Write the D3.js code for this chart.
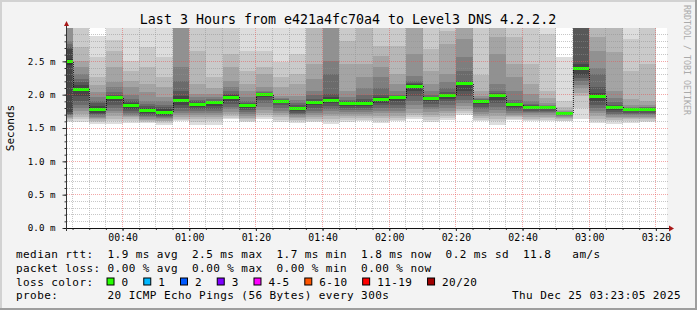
<!DOCTYPE html>
<html>
<head>
<meta charset="utf-8">
<script src="https://cdn.jsdelivr.net/npm/d3@7"></script>
<style>
  html, body { margin: 0; padding: 0; background: #f3f3f3; }
  svg { display: block; }
  text { font-family: "DejaVu Sans Mono", monospace; }
  .pre { white-space: pre; }
</style>
</head>
<body>
<svg id="chart" width="697" height="310"></svg>
<script>
// time window of the graph and the start of the first 5 minute step
const viewStart = "2025-12-25 00:23:20";
const viewEnd = "2025-12-25 03:23:20";
const firstStep = "2025-12-25 00:20:00";
const stepMinutes = 5;

// median rtt per step (ms)
const medians = [2.49, 2.085, 1.775, 1.953, 1.833, 1.758, 1.737, 1.908, 1.855, 1.878,
  1.96, 1.833, 1.998, 1.9, 1.788, 1.88, 1.917, 1.868, 1.868, 1.927,
  1.953, 2.13, 1.937, 1.99, 2.16, 1.9, 1.983, 1.848, 1.81, 1.803,
  1.72, 2.388, 1.973, 1.81, 1.773, 1.78];

// the 20 sorted pings of each step (ms)
const pings = [
  [1.59,1.61,1.63,1.65,1.67,1.69,1.7,1.71,1.74,2.44, 2.53,2.68,2.72,2.76,2.8,3.1,3.2,3.3,3.4,3.5],
  [1.59,1.63,1.67,1.71,1.75,1.8,1.85,1.91,1.98,2.06, 2.1,2.14,2.19,2.235,2.31,2.41,2.51,2.71,3.2,3.5],
  [1.56,1.59,1.61,1.63,1.65,1.67,1.69,1.71,1.73,1.76, 1.79,1.83,1.87,1.91,1.96,2.04,2.14,2.26,2.56,2.885],
  [1.56,1.6,1.64,1.68,1.72,1.76,1.8,1.85,1.9,1.94, 1.965,1.98,2.0,2.035,2.11,2.19,2.41,2.66,2.82,3.4],
  [1.57,1.6,1.63,1.66,1.68,1.7,1.73,1.76,1.79,1.82, 1.845,1.87,1.9,1.94,2.0,2.11,2.21,2.36,2.51,3.3],
  [1.57,1.59,1.6,1.62,1.64,1.66,1.68,1.7,1.72,1.745, 1.77,1.8,1.83,1.86,1.91,2.035,2.16,2.41,2.71,3.2],
  [1.55,1.58,1.6,1.61,1.63,1.645,1.66,1.68,1.7,1.725, 1.75,1.78,1.81,1.85,1.9,1.96,2.11,2.26,2.56,3.3],
  [1.6,1.62,1.64,1.66,1.69,1.72,1.76,1.8,1.85,1.89, 1.93,1.98,2.06,2.2,2.41,3.1,3.2,3.4,3.6,3.8],
  [1.55,1.59,1.63,1.67,1.7,1.73,1.76,1.79,1.82,1.845, 1.865,1.88,1.9,1.92,1.96,2.01,2.16,2.66,3.1,3.3],
  [1.55,1.6,1.63,1.66,1.69,1.72,1.75,1.79,1.83,1.87, 1.885,1.9,1.91,1.93,1.96,2.01,2.1,2.26,3.15,3.4],
  [1.63,1.65,1.68,1.71,1.74,1.78,1.82,1.86,1.9,1.945, 1.975,1.99,2.01,2.05,2.11,2.21,2.41,2.61,3.1,3.4],
  [1.59,1.61,1.63,1.65,1.68,1.71,1.74,1.77,1.8,1.825, 1.84,1.85,1.87,1.9,1.97,2.06,2.16,2.36,2.66,3.3],
  [1.64,1.66,1.69,1.73,1.77,1.82,1.87,1.92,1.96,1.99, 2.005,2.01,2.02,2.04,2.06,2.11,2.31,2.41,2.66,3.3],
  [1.59,1.62,1.66,1.69,1.72,1.76,1.8,1.84,1.87,1.895, 1.905,1.91,1.92,1.93,1.95,1.985,2.11,2.26,2.485,3.2],
  [1.57,1.6,1.62,1.65,1.67,1.69,1.71,1.73,1.75,1.775, 1.8,1.82,1.84,1.88,1.92,1.985,2.16,2.31,2.61,3.3],
  [1.59,1.61,1.63,1.66,1.69,1.72,1.76,1.8,1.84,1.87, 1.89,1.91,1.94,1.99,2.06,2.235,2.46,3.15,3.3,3.6],
  [1.56,1.6,1.64,1.68,1.71,1.75,1.79,1.83,1.87,1.905, 1.93,1.96,2.01,2.31,2.51,3.1,3.2,3.4,3.6,3.8],
  [1.59,1.62,1.65,1.68,1.71,1.74,1.77,1.8,1.83,1.86, 1.875,1.885,1.9,1.92,1.96,2.06,2.46,2.81,3.1,3.3],
  [1.6,1.62,1.65,1.68,1.71,1.74,1.77,1.8,1.83,1.856, 1.88,1.9,1.94,2.0,2.1,2.26,2.46,3.1,3.2,3.5],
  [1.58,1.61,1.65,1.68,1.72,1.76,1.8,1.84,1.88,1.915, 1.94,1.96,2.0,2.1,2.26,2.41,2.585,2.735,3.15,3.4],
  [1.6,1.62,1.65,1.68,1.72,1.76,1.8,1.85,1.9,1.945, 1.96,1.97,1.98,2.0,2.05,2.16,2.31,2.735,3.15,3.4],
  [1.64,1.66,1.69,1.73,1.78,1.84,1.9,1.98,2.05,2.12, 2.14,2.16,2.18,2.21,2.285,2.61,3.1,3.2,3.4,3.6],
  [1.59,1.62,1.66,1.7,1.74,1.78,1.82,1.86,1.9,1.93, 1.945,1.955,1.97,1.99,2.05,2.16,2.36,2.685,3.15,3.4],
  [1.62,1.65,1.68,1.72,1.76,1.8,1.85,1.9,1.94,1.98, 2.0,2.01,2.04,2.1,2.185,2.31,2.76,2.96,3.06,3.2],
  [1.7,1.73,1.76,1.79,1.83,1.87,1.92,1.98,2.06,2.15, 2.17,2.18,2.21,2.36,2.56,2.84,3.1,3.2,3.4,3.6],
  [1.6,1.62,1.65,1.68,1.71,1.74,1.78,1.82,1.86,1.895, 1.905,1.91,1.92,1.93,1.95,1.98,2.06,2.3,3.1,3.3],
  [1.55,1.6,1.64,1.68,1.72,1.77,1.82,1.87,1.92,1.975, 1.99,2.0,2.02,2.06,2.16,2.61,2.86,3.1,3.3,3.5],
  [1.62,1.64,1.66,1.68,1.7,1.72,1.75,1.78,1.81,1.84, 1.855,1.865,1.88,1.92,2.06,2.26,2.46,2.86,3.1,3.3],
  [1.6,1.62,1.64,1.67,1.7,1.72,1.74,1.76,1.78,1.805, 1.815,1.825,1.84,1.86,1.91,2.01,2.16,2.46,3.1,3.3],
  [1.6,1.62,1.65,1.67,1.7,1.72,1.74,1.76,1.78,1.8, 1.807,1.81,1.82,1.83,1.85,1.88,1.95,2.06,2.91,3.2],
  [1.6,1.61,1.63,1.65,1.67,1.68,1.69,1.7,1.71,1.717, 1.723,1.727,1.73,1.737,1.745,1.755,1.77,1.81,1.91,2.56],
  [1.63,1.8,1.98,2.03,2.1,2.15,2.2,2.25,2.3,2.376, 2.4,2.46,3.1,3.3,3.5,3.6,3.7,3.8,3.9,4.0],
  [1.57,1.61,1.64,1.68,1.72,1.76,1.8,1.85,1.9,1.955, 1.99,2.02,2.11,2.31,2.4,2.66,2.86,3.1,3.2,3.4],
  [1.56,1.6,1.62,1.65,1.67,1.69,1.71,1.74,1.77,1.8, 1.82,1.83,1.85,1.89,1.95,2.06,2.635,3.1,3.15,3.4],
  [1.58,1.61,1.63,1.65,1.67,1.69,1.71,1.73,1.75,1.768, 1.778,1.783,1.79,1.8,1.82,1.85,1.935,2.36,2.835,3.3],
  [1.59,1.61,1.63,1.65,1.67,1.69,1.71,1.73,1.75,1.775, 1.785,1.79,1.8,1.81,1.82,1.85,1.91,2.46,3.1,3.3]
];

const xTickLabels = ["00:40", "01:00", "01:20", "01:40", "02:00", "02:20", "02:40", "03:00", "03:20"];
const yTickValues = [0, 0.5, 1.0, 1.5, 2.0, 2.5];

const lossLabels = ["0", "1", "2", "3", "4-5", "6-10", "11-19", "20/20"];
const lossColors = ["#26ff00", "#00b8ff", "#0059ff", "#7e00ff", "#ff00ff", "#ff5500", "#ff0000", "#a00000"];

const title = "Last 3 Hours from e421a4fc70a4 to Level3 DNS 4.2.2.2";
const legendRows = [
  "median rtt:  1.9 ms avg  2.5 ms max  1.7 ms min  1.8 ms now  0.2 ms sd  11.8   am/s",
  "packet loss: 0.00 % avg  0.00 % max  0.00 % min  0.00 % now",
  "loss color:",
  "probe:       20 ICMP Echo Pings (56 Bytes) every 300s"
];
const stamp = "Thu Dec 25 03:23:05 2025";

const parse = d3.utcParse("%Y-%m-%d %H:%M:%S");
const tParse = d3.utcParse("%Y-%m-%d %H:%M");
const day = "2025-12-25 ";

const svg = d3.select("#chart");
const width = 697, height = 310;
const plot = { left: 67, right: 667, top: 28, bottom: 228 };

const x = d3.scaleUtc()
  .domain([parse(viewStart), parse(viewEnd)])
  .range([plot.left, plot.right]);
const y = d3.scaleLinear()
  .domain([0, 3])
  .range([plot.bottom, plot.top]);

// background + frame
svg.append("rect").attr("width", width).attr("height", height).attr("fill", "#f3f3f3");
svg.append("path").attr("d", `M1,${height} V1 H${width}`).attr("stroke", "#d2d2d2").attr("stroke-width", 2).attr("fill", "none");
svg.append("path").attr("d", `M0,${height - 1} H${width - 1} V0`).attr("stroke", "#9e9e9e").attr("stroke-width", 2).attr("fill", "none");

svg.append("defs").append("clipPath").attr("id", "plotclip")
  .append("rect")
  .attr("x", plot.left).attr("y", plot.top)
  .attr("width", plot.right - plot.left).attr("height", plot.bottom - plot.top);

svg.append("rect")
  .attr("x", plot.left).attr("y", plot.top)
  .attr("width", plot.right - plot.left).attr("height", plot.bottom - plot.top)
  .attr("fill", "#ffffff");

// smoke: pair k spans ping k .. ping 21-k, inner pairs darker
const stepTime = i => d3.utcMinute.offset(parse(firstStep), i * stepMinutes);
const smoke = svg.append("g").attr("clip-path", "url(#plotclip)").attr("shape-rendering", "crispEdges");

pings.forEach((p, i) => {
  const x0 = Math.round(x(stepTime(i)));
  const x1 = Math.round(x(stepTime(i + 1)));
  for (let k = 1; k <= 10; k++) {
    const shade = Math.floor(190 / 10 * (10 - k)) + 50;
    const top = Math.round(y(p[20 - k]));
    const bot = Math.round(y(p[k - 1]));
    smoke.append("rect")
      .attr("x", x0).attr("y", top)
      .attr("width", x1 - x0).attr("height", Math.max(0, bot - top))
      .attr("fill", d3.rgb(shade, shade, shade));
  }
});

// median steps
medians.forEach((m, i) => {
  const x0 = Math.round(x(stepTime(i)));
  const x1 = Math.round(x(stepTime(i + 1)));
  if (i > 0) {
    smoke.append("line")
      .attr("x1", x0 + 0.5).attr("x2", x0 + 0.5)
      .attr("y1", y(medians[i - 1])).attr("y2", y(m))
      .attr("stroke", "#000").attr("stroke-opacity", 0.75)
      .attr("stroke-dasharray", "1,1");
  }
  smoke.append("rect")
    .attr("x", x0).attr("y", Math.round(y(m) - 1.5))
    .attr("width", x1 - x0).attr("height", 3)
    .attr("fill", lossColors[0]);
});

// grid on top of the data
const grid = svg.append("g").attr("shape-rendering", "crispEdges");
const minorGridColor = "rgba(143,143,143,0.5)";
const majorGridColor = "rgba(229,80,80,0.5)";

d3.range(1, 30).map(v => v / 10).forEach(v => {
  const major = yTickValues.some(t => Math.abs(t - v) < 1e-9);
  const yy = Math.floor(y(v)) + 0.5;
  grid.append("line")
    .attr("x1", plot.left).attr("x2", plot.right + 1)
    .attr("y1", yy).attr("y2", yy)
    .attr("stroke", major ? majorGridColor : minorGridColor)
    .attr("stroke-dasharray", "1,1");
});

const xMajor = xTickLabels.map(s => tParse(day + s));
const xMinor = d3.utcMinute.every(stepMinutes).range(x.domain()[0], x.domain()[1]);
xMinor.forEach(t => {
  const major = xMajor.some(m => +m === +t);
  const xx = Math.floor(x(t)) + 0.5;
  grid.append("line")
    .attr("x1", xx).attr("x2", xx)
    .attr("y1", plot.top).attr("y2", plot.bottom)
    .attr("stroke", major ? majorGridColor : minorGridColor)
    .attr("stroke-dasharray", "1,1");
});

// axes
const yAxis = d3.axisLeft(y)
  .tickValues(yTickValues)
  .tickSizeInner(4).tickSizeOuter(0).tickPadding(7)
  .tickFormat(d => d3.format(".1f")(d) + " m");
const yAxisG = svg.append("g").attr("transform", `translate(${plot.left - 0.5},0)`).call(yAxis);
yAxisG.select(".domain").remove();
yAxisG.selectAll("text").attr("font-size", 9.2).attr("fill", "#000").attr("font-family", "DejaVu Sans Mono");

const yMinorAxis = d3.axisLeft(y)
  .tickValues(d3.range(1, 30).map(v => v / 10))
  .tickSizeInner(2).tickSizeOuter(0).tickFormat("");
const yMinorG = svg.append("g").attr("transform", `translate(${plot.left - 0.5},0)`).call(yMinorAxis);
yMinorG.select(".domain").remove();

const xAxis = d3.axisBottom(x)
  .tickValues(xMajor)
  .tickSizeInner(3).tickSizeOuter(0).tickPadding(3)
  .tickFormat(d3.utcFormat("%H:%M"));
const xAxisG = svg.append("g").attr("transform", `translate(0,${plot.bottom})`).call(xAxis);
xAxisG.select(".domain").remove();
xAxisG.selectAll("text").attr("font-size", 9.8).attr("fill", "#000").attr("font-family", "DejaVu Sans Mono");

const xMinorAxis = d3.axisBottom(x)
  .tickValues(xMinor)
  .tickSizeInner(2).tickSizeOuter(0).tickFormat("");
const xMinorG = svg.append("g").attr("transform", `translate(0,${plot.bottom})`).call(xMinorAxis);
xMinorG.select(".domain").remove();

svg.selectAll(".tick line").attr("stroke", "#333");

// axis lines with arrows
svg.append("line")
  .attr("x1", plot.left - 3).attr("x2", plot.right + 3)
  .attr("y1", plot.bottom + 0.5).attr("y2", plot.bottom + 0.5)
  .attr("stroke", "#111");
svg.append("line")
  .attr("x1", plot.left - 0.5).attr("x2", plot.left - 0.5)
  .attr("y1", plot.bottom + 3).attr("y2", plot.top - 3)
  .attr("stroke", "#333");
svg.append("path")
  .attr("d", `M${plot.right + 2},${plot.bottom - 2.5} L${plot.right + 7},${plot.bottom + 0.5} L${plot.right + 2},${plot.bottom + 3.5} Z`)
  .attr("fill", "#a81818");
svg.append("path")
  .attr("d", `M${plot.left - 3},${plot.top - 2} L${plot.left - 0.5},${plot.top - 7} L${plot.left + 2},${plot.top - 2} Z`)
  .attr("fill", "#a81818");

// titles
svg.append("text")
  .attr("x", 348).attr("y", 23.5)
  .attr("text-anchor", "middle")
  .attr("font-size", 13.3)
  .attr("fill", "#000")
  .text(title);

svg.append("text")
  .attr("transform", `translate(14,${(plot.top + plot.bottom) / 2}) rotate(-90)`)
  .attr("text-anchor", "middle")
  .attr("font-size", 11)
  .attr("fill", "#000")
  .text("Seconds");

svg.append("text")
  .attr("transform", "translate(684,5) rotate(90)")
  .attr("font-size", 8.3)
  .attr("fill", "#aaaaaa")
  .text("RRDTOOL / TOBI OETIKER");

// legend
const charW = 7.04;
const rowY = [258, 271.7, 285.5, 299.3];
legendRows.forEach((row, i) => {
  svg.append("text")
    .attr("class", "pre")
    .attr("x", 16).attr("y", rowY[i])
    .attr("font-size", 11)
    .attr("letter-spacing", 0.42)
    .attr("fill", "#000")
    .text(row);
});

let cx = 16 + 13 * charW - 1;
lossLabels.forEach((lab, i) => {
  svg.append("rect")
    .attr("x", cx + 0.5).attr("y", rowY[2] - 7.5)
    .attr("width", 7).attr("height", 7)
    .attr("fill", lossColors[i])
    .attr("stroke", "#000").attr("stroke-width", 1);
  svg.append("text")
    .attr("x", cx + 15).attr("y", rowY[2])
    .attr("font-size", 11)
    .attr("letter-spacing", 0.42)
    .attr("fill", "#000")
    .text(lab);
  cx = cx + 15 + lab.length * charW + 14.7;
});

svg.append("text")
  .attr("class", "pre")
  .attr("x", 681).attr("y", rowY[3])
  .attr("text-anchor", "end")
  .attr("font-size", 11)
  .attr("letter-spacing", 0.42)
  .attr("fill", "#000")
  .text(stamp);
</script>
</body>
</html>
